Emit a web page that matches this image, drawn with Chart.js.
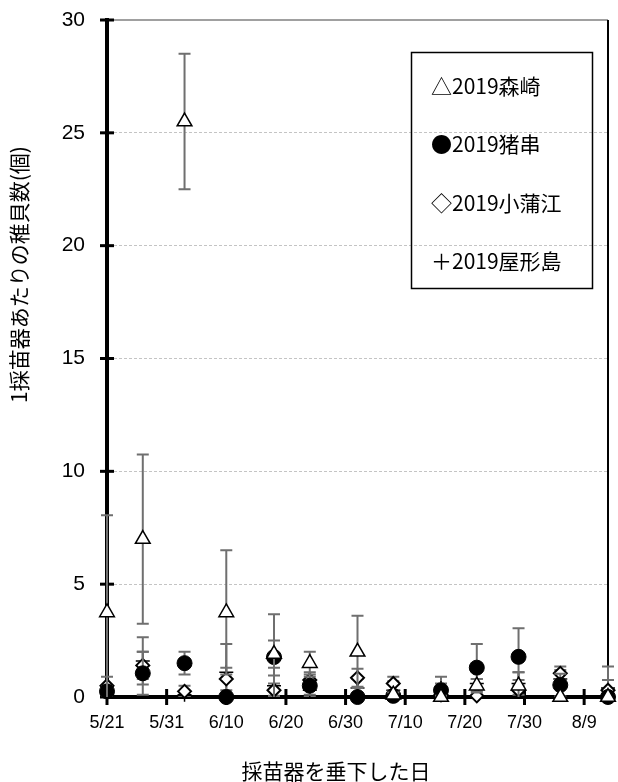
<!DOCTYPE html>
<html>
<head>
<meta charset="utf-8">
<script src="https://cdn.jsdelivr.net/npm/chart.js@4.4.0/dist/chart.umd.min.js"></script>
<style>
  html, body { margin: 0; padding: 0; background: #fff; }
</style>
</head>
<body>
<canvas id="grafico" width="618" height="782"></canvas>
<script>
// Fechas de muestreo (2019)
const fechas = ['5/21', '5/27', '6/3', '6/10', '6/18', '6/24', '7/2', '7/8', '7/16', '7/22', '7/29', '8/5', '8/13'];

// Nombres de las series (tal como en la leyenda)
const nombres = ['2019森崎', '2019猪串', '2019小蒲江', '2019屋形島'];
const simbolos = ['△', '●', '◇', '＋'];

// Valores medios y errores de cada serie
const morisaki    = [3.75, 7.0, 25.5, 3.75, 1.9, 1.5, 2.0, 0.1, 0.0, 0.5, 0.5, 0.0, 0.0];
const morisakiErr = [4.3, 3.75, 3.0, 2.75, 0.6, 0.5, 1.6, 0.1, 0.05, 0.3, 0.6, 0.0, 0.0];
const inokushi    = [0.25, 1.05, 1.5, 0.0, 1.77, 0.5, 0.0, 0.05, 0.3, 1.3, 1.78, 0.53, 0.0];
const inokushiErr = [0.2, 0.95, 0.5, 0.0, 1.9, 0.4, 0.0, 0.05, 0.3, 1.05, 1.27, 0.5, 0.0];
const kamae       = [0.5, 1.4, 0.25, 0.8, 0.3, 0.75, 0.85, 0.6, 0.1, 0.05, 0.3, 1.05, 0.3];
const kamaeErr    = [0.4, 0.6, 0.25, 0.5, 0.3, 0.35, 0.4, 0.3, 0.1, 0.05, 0.45, 0.3, 0.45];
const yakata      = [0.1, 1.6, 0.1, 1.1, 0.5, 0.3, 0.4, 0.3, 0.4, 0.6, 0.6, 0.8, 0.4];
const yakataErr   = [0.1, 1.05, 0.1, 1.25, 0.45, 0.3, 0.4, 0.4, 0.5, 0.2, 0.5, 0.4, 0.95];

// Marcas de los ejes
const etiquetasX = ['5/21', '5/31', '6/10', '6/20', '6/30', '7/10', '7/20', '7/30', '8/9'];
const ticksY = [0, 5, 10, 15, 20, 25, 30];

const fuente = '"Liberation Sans", "Noto Sans CJK JP", sans-serif';
const fuenteJP = '"Noto Sans CJK JP", sans-serif';

// Convertir "m/d" a días desde el 5/21
function diasDesdeInicio(texto) {
    const [m, d] = texto.split('/').map(Number);
    const inicio = Date.UTC(2019, 4, 21);
    return Math.round((Date.UTC(2019, m - 1, d) - inicio) / 86400000);
}

const diasX = fechas.map(diasDesdeInicio);
const diasTicks = etiquetasX.map(diasDesdeInicio);

function puntos(valores) {
    return valores.map((v, i) => ({ x: diasX[i], y: v }));
}

// Barras de error, dibujadas antes de los marcadores de cada serie
const barrasError = {
    id: 'barrasError',
    beforeDatasetDraw(chart, args) {
        const ds = chart.data.datasets[args.index];
        if (!ds.errores) return;
        const ctx = chart.ctx;
        const ys = chart.scales.y;
        const area = chart.chartArea;
        ctx.save();
        ctx.beginPath();
        ctx.rect(area.left - 10, area.top, area.right - area.left + 20, area.bottom - area.top);
        ctx.clip();
        ctx.strokeStyle = '#6f6f6f';
        ctx.lineWidth = 2;
        args.meta.data.forEach((pt, i) => {
            const e = ds.errores[i];
            if (!e) return;
            const v = ds.data[i].y;
            const arriba = ys.getPixelForValue(v + e);
            const abajo = ys.getPixelForValue(v - e);
            ctx.beginPath();
            ctx.moveTo(pt.x, arriba);
            ctx.lineTo(pt.x, abajo);
            ctx.moveTo(pt.x - 6, arriba);
            ctx.lineTo(pt.x + 6, arriba);
            ctx.moveTo(pt.x - 6, abajo);
            ctx.lineTo(pt.x + 6, abajo);
            ctx.stroke();
        });
        ctx.restore();
    }
};

// Marco, marcas de los ejes, títulos y leyenda
const decoracion = {
    id: 'decoracion',
    beforeDatasetsDraw(chart) {
        const ctx = chart.ctx;
        const a = chart.chartArea;
        const xs = chart.scales.x;
        const ys = chart.scales.y;
        ctx.save();
        // borde superior y derecho
        ctx.strokeStyle = '#808080';
        ctx.lineWidth = 1.5;
        ctx.beginPath();
        ctx.moveTo(a.left, a.top);
        ctx.lineTo(a.right, a.top);
        ctx.stroke();
        ctx.strokeStyle = '#000';
        ctx.lineWidth = 2;
        ctx.beginPath();
        ctx.moveTo(a.right, a.top);
        ctx.lineTo(a.right, a.bottom);
        ctx.stroke();
        // marcas cruzadas
        ctx.lineWidth = 3;
        ticksY.forEach(v => {
            const y = ys.getPixelForValue(v);
            ctx.beginPath();
            ctx.moveTo(a.left - 7, y);
            ctx.lineTo(a.left + 7, y);
            ctx.stroke();
        });
        diasTicks.forEach(v => {
            const x = xs.getPixelForValue(v);
            ctx.beginPath();
            ctx.moveTo(x, a.bottom - 8);
            ctx.lineTo(x, a.bottom + 8);
            ctx.stroke();
        });
        ctx.restore();
    },
    afterDraw(chart) {
        const ctx = chart.ctx;
        ctx.save();
        ctx.fillStyle = '#000';
        // título eje Y
        ctx.font = '21px ' + fuenteJP;
        ctx.textAlign = 'left';
        ctx.textBaseline = 'middle';
        ctx.save();
        ctx.translate(19, 403);
        ctx.rotate(-Math.PI / 2);
        ctx.fillText('1採苗器あたりの稚貝数(個)', 0, 0);
        ctx.restore();
        // título eje X
        ctx.textAlign = 'center';
        ctx.font = '21px ' + fuenteJP;
        ctx.fillText('採苗器を垂下した日', 336, 771);
        // leyenda
        ctx.strokeStyle = '#000';
        ctx.lineWidth = 1.5;
        ctx.strokeRect(411.5, 52.5, 181, 236);
        ctx.font = '21px ' + fuenteJP;
        ctx.textAlign = 'left';
        nombres.forEach((n, i) => {
            ctx.fillText(simbolos[i] + n, 431, 86 + i * 58.5);
        });
        ctx.restore();
    }
};

const ctx = document.getElementById('grafico');

new Chart(ctx, {
    type: 'scatter',
    data: {
        datasets: [
            {
                label: nombres[0],
                data: puntos(morisaki),
                errores: morisakiErr,
                pointStyle: 'triangle',
                pointRadius: 8.5,
                pointBackgroundColor: '#fff',
                pointBorderColor: '#000',
                pointBorderWidth: 1.5,
                clip: false
            },
            {
                label: nombres[1],
                data: puntos(inokushi),
                errores: inokushiErr,
                pointStyle: 'circle',
                pointRadius: 7.5,
                pointBackgroundColor: '#000',
                pointBorderColor: '#000',
                pointBorderWidth: 1,
                clip: false
            },
            {
                label: nombres[2],
                data: puntos(kamae),
                errores: kamaeErr,
                pointStyle: 'rectRot',
                pointRadius: 6.5,
                pointBackgroundColor: '#fff',
                pointBorderColor: '#000',
                pointBorderWidth: 2,
                clip: false
            },
            {
                label: nombres[3],
                data: puntos(yakata),
                errores: yakataErr,
                pointStyle: 'cross',
                pointRadius: 7,
                pointBorderColor: '#000',
                pointBorderWidth: 1.5,
                clip: false
            }
        ]
    },
    options: {
        responsive: false,
        animation: false,
        devicePixelRatio: 1,
        layout: { padding: { top: 20, right: 7, left: 0, bottom: 0 } },
        plugins: {
            legend: { display: false },
            tooltip: { enabled: false }
        },
        scales: {
            x: {
                type: 'linear',
                min: 0,
                max: diasX[diasX.length - 1],
                afterBuildTicks: scale => {
                    scale.ticks = diasTicks.map(v => ({ value: v }));
                },
                afterFit: scale => { scale.height = 85; },
                grid: { display: false, drawTicks: false },
                border: { display: true, color: '#000', width: 4 },
                ticks: {
                    padding: 15,
                    maxRotation: 0,
                    autoSkip: false,
                    color: '#000',
                    font: { family: fuente, size: 18 },
                    callback: v => etiquetasX[diasTicks.indexOf(v)]
                }
            },
            y: {
                min: 0,
                max: 30,
                afterBuildTicks: scale => {
                    scale.ticks = ticksY.map(v => ({ value: v }));
                },
                afterFit: scale => {
                    scale.width = 107;
                    scale.paddingTop = 0;
                    scale.paddingBottom = 0;
                },
                grid: {
                    drawTicks: false,
                    color: c => (c.tick && (c.tick.value === 0 || c.tick.value === 30)) ? 'rgba(0,0,0,0)' : '#c4c4c4',
                    lineWidth: 1
                },
                border: { display: true, color: '#000', width: 4, dash: [3, 2] },
                ticks: {
                    padding: 22,
                    color: '#000',
                    font: { family: fuente, size: 21 }
                }
            }
        }
    },
    plugins: [barrasError, decoracion]
});
</script>
</body>
</html>
